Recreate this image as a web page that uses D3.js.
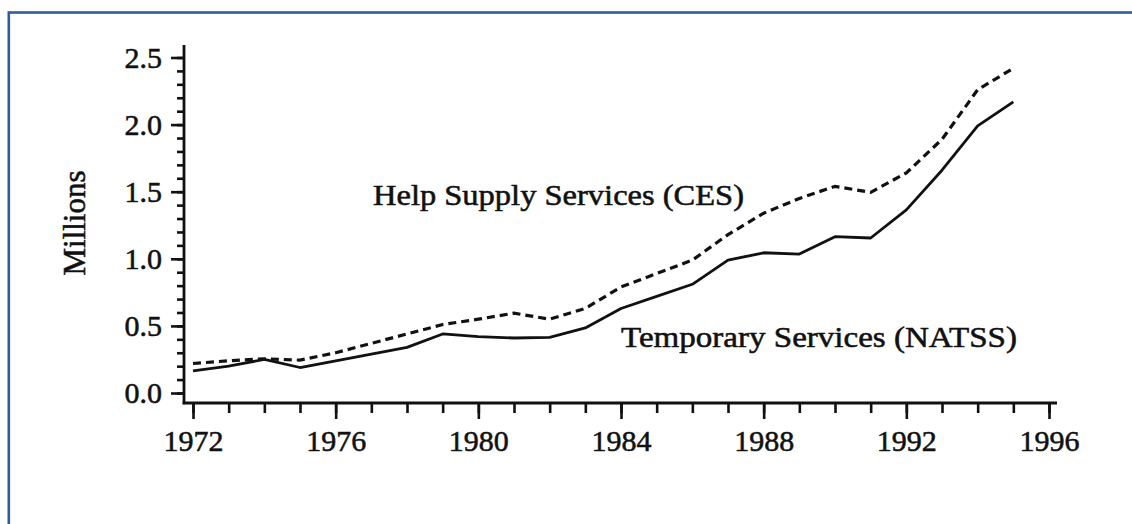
<!DOCTYPE html>
<html>
<head>
<meta charset="utf-8">
<script src="https://cdn.jsdelivr.net/npm/d3@7"></script>
<style>
  html, body { margin: 0; padding: 0; background: #fff; }
  svg { display: block; }
  text { font-family: "Liberation Serif", "DejaVu Serif", serif; fill: #111; stroke: #111; stroke-width: 0.55px; }
</style>
</head>
<body>
<svg id="chart" width="1132" height="524"></svg>
<script>
const years = [1972,1973,1974,1975,1976,1977,1978,1979,1980,1981,1982,1983,1984,1985,1986,1987,1988,1989,1990,1991,1992,1993,1994,1995];
const natss = [0.165,0.20,0.25,0.19,0.24,0.29,0.34,0.44,0.42,0.41,0.415,0.485,0.63,0.72,0.81,0.99,1.045,1.035,1.165,1.155,1.365,1.66,1.99,2.17];
const ces   = [0.22,0.24,0.255,0.245,0.30,0.37,0.44,0.51,0.55,0.595,0.55,0.63,0.79,0.89,0.99,1.18,1.34,1.45,1.54,1.495,1.64,1.89,2.26,2.42];
const xMajorTicks = [1972,1976,1980,1984,1988,1992,1996];
const yMajorTicks = [0.0,0.5,1.0,1.5,2.0,2.5];
const yTickLabels = ["0.0","0.5","1.0","1.5","2.0","2.5"];
const yAxisLabel = "Millions";
const cesLabel = "Help Supply Services (CES)";
const natssLabel = "Temporary Services (NATSS)";

const svg = d3.select("#chart");
const ink = "#111";

// frame
svg.append("rect").attr("x", 8.8).attr("y", 12.5).attr("width", 1200).attr("height", 600)
  .attr("fill", "none").attr("stroke", "#2f5a9c").attr("stroke-width", 2.6);

const x = d3.scaleLinear().domain([1972, 1996]).range([193, 1049]);
const y = d3.scaleLinear().domain([0, 2.5]).range([393, 57.5]);
const axisX = 184, axisY = 403;

// y axis
const gy = svg.append("g").attr("transform", `translate(${axisX},0)`);
const yMinor = d3.range(0, 26).map(i => i / 10);
gy.call(d3.axisLeft(y).tickValues(yMinor).tickSize(7).tickFormat(""))
  .call(g => g.select(".domain").remove());
const gyMaj = svg.append("g").attr("transform", `translate(${axisX},0)`);
gyMaj.call(d3.axisLeft(y).tickValues(yMajorTicks).tickSize(13).tickPadding(9)
    .tickFormat((d, i) => yTickLabels[i]))
  .call(g => g.select(".domain").remove());
gyMaj.selectAll("text").attr("font-size", 30).attr("font-family", "Liberation Serif").attr("fill", ink);
svg.selectAll(".tick line").attr("stroke", ink).attr("stroke-width", 2.6);
svg.append("line").attr("x1", axisX).attr("x2", axisX).attr("y1", 45).attr("y2", axisY + 1.3)
  .attr("stroke", ink).attr("stroke-width", 2.8);

// x axis
const gxMin = svg.append("g").attr("transform", `translate(0,${axisY})`);
gxMin.call(d3.axisBottom(x).tickValues(d3.range(1972, 1997)).tickSize(10).tickFormat(""))
  .call(g => g.select(".domain").remove());
const gx = svg.append("g").attr("transform", `translate(0,${axisY})`);
gx.call(d3.axisBottom(x).tickValues(xMajorTicks).tickSize(16).tickPadding(11).tickFormat(d3.format("d")))
  .call(g => g.select(".domain").remove());
gx.selectAll("text").attr("font-size", 30).attr("font-family", "Liberation Serif").attr("fill", ink);
svg.selectAll(".tick line").attr("stroke", ink).attr("stroke-width", 2.6);
svg.append("line").attr("x1", axisX - 1.3).attr("x2", x(1996) + 8).attr("y1", axisY).attr("y2", axisY)
  .attr("stroke", ink).attr("stroke-width", 2.8);

// lines
const line = d3.line().x((d, i) => x(years[i])).y(d => y(d));
svg.append("path").datum(natss).attr("d", line).attr("fill", "none")
  .attr("stroke", ink).attr("stroke-width", 2.8).attr("stroke-linejoin", "round");
svg.append("path").datum(ces).attr("d", line).attr("fill", "none")
  .attr("stroke", ink).attr("stroke-width", 3.2).attr("stroke-dasharray", "8,5");

// labels
svg.append("text").attr("x", 373).attr("y", 205).attr("font-size", 30)
  .attr("textLength", 371).attr("lengthAdjust", "spacingAndGlyphs").text(cesLabel);
svg.append("text").attr("x", 621).attr("y", 347).attr("font-size", 30)
  .attr("textLength", 396).attr("lengthAdjust", "spacingAndGlyphs").text(natssLabel);
svg.append("text").attr("transform", "translate(85,223) rotate(-90)")
  .attr("text-anchor", "middle").attr("font-size", 31).text(yAxisLabel);
</script>
</body>
</html>
